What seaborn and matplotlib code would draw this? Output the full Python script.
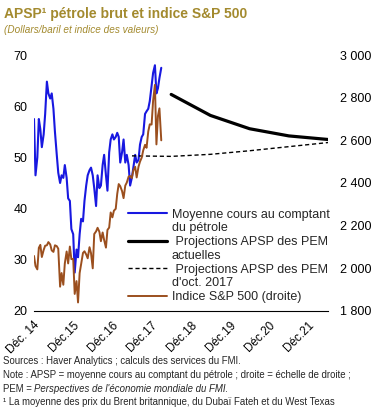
"""APSP crude oil price and S&P 500 index, with WEO projections."""

import matplotlib

matplotlib.use("Agg")
import matplotlib.pyplot as plt
import matplotlib.transforms as mtransforms
import pandas as pd
import seaborn as sns
from matplotlib.lines import Line2D
from matplotlib.ticker import FuncFormatter

# semi-monthly readings (1st and 15th of each month), Jan 2015 -> Apr 2018
oil_2015 = [57.5, 46.5, 50.0, 57.5, 55.5, 52.0, 54.5, 58.5, 64.8, 62.5, 61.5, 62.5,
            59.5, 55.0, 50.5, 47.0, 45.0, 46.5, 46.0, 48.5, 46.0, 42.0, 41.5, 36.0]
oil_2016 = [35.0, 27.5, 32.0, 30.5, 35.0, 38.0, 37.5, 41.5, 44.5, 46.5, 47.5, 48.0,
            46.5, 44.0, 40.5, 46.5, 44.0, 44.5, 48.5, 50.5, 46.5, 43.5, 51.0, 53.5]
oil_2017 = [54.5, 53.5, 54.0, 54.8, 54.0, 49.0, 51.0, 53.5, 49.0, 50.5, 48.5, 44.5,
            46.0, 48.0, 50.5, 49.0, 49.5, 52.5, 54.0, 54.5, 58.5, 59.0, 59.5, 61.0]
oil_2018 = [64.0, 66.5, 68.0, 62.5, 63.5, 65.5, 67.5]

sp_2015 = [2058, 2011, 1995, 2096, 2110, 2053, 2086, 2106, 2108, 2123, 2112, 2084,
           2077, 2108, 2104, 2092, 1914, 1978, 1923, 2023, 2079, 2023, 2102, 2043]
sp_2016 = [2044, 1880, 1940, 1840, 1978, 2020, 2072, 2080, 2065, 2047, 2099, 2071,
           2000, 2161, 2173, 2190, 2171, 2127, 2168, 2133, 2097, 2180, 2191, 2262]
sp_2017 = [2239, 2270, 2279, 2349, 2395, 2385, 2362, 2329, 2388, 2402, 2430, 2433,
           2423, 2459, 2476, 2426, 2476, 2500, 2519, 2553, 2579, 2565, 2642, 2675]
sp_2018 = [2674, 2786, 2860, 2581, 2714, 2750, 2600]

# WEO projections (annual averages, plotted mid-year)
proj_now_years = [2018.5, 2019.5, 2020.5, 2021.5, 2022.5]
proj_now = [62.3, 58.2, 55.6, 54.2, 53.5]
proj_oct17_years = [2017.5, 2018.5, 2019.5, 2020.5, 2021.5, 2022.5]
proj_oct17 = [50.3, 50.2, 50.6, 51.3, 52.1, 52.9]

tick_years = [2015, 2016, 2017, 2018, 2019, 2020, 2021, 2022]
tick_labels = ["Déc. 14", "Déc.15", "Déc.16", "Déc.17", "Déc.18", "Déc.19", "Déc.20", "Déc.21"]

TITLE_COLOR = "#A38A2E"
OIL_COLOR = "#1818E0"
SP_COLOR = "#9B4F1E"

oil = oil_2015 + oil_2016 + oil_2017 + oil_2018
sp500 = sp_2015 + sp_2016 + sp_2017 + sp_2018
dates = pd.date_range("2015-01-01", periods=len(oil), freq="SMS")
decimal_year = dates.year + (dates.dayofyear - 1) / 365.0

sns.set_style("white")
plt.rcParams["font.family"] = ["Liberation Sans", "DejaVu Sans"]

fig = plt.figure(figsize=(3.74, 4.19), dpi=100)
ax = fig.add_axes([0.0909, 0.2578, 0.7861, 0.6109])
ax2 = ax.twinx()

sns.lineplot(x=decimal_year, y=oil, ax=ax, color=OIL_COLOR, linewidth=1.5)
oil_line = ax.lines[-1]
sns.lineplot(x=proj_now_years, y=proj_now, ax=ax, color="black", linewidth=2.3)
now_line = ax.lines[-1]
sns.lineplot(x=proj_oct17_years, y=proj_oct17, ax=ax, color="black", linewidth=1.0)
oct_line = ax.lines[-1]
oct_line.set_dashes((3, 2))
sns.lineplot(x=decimal_year, y=sp500, ax=ax2, color=SP_COLOR, linewidth=1.4)
sp_line = ax2.lines[-1]

ax.set_xlim(2015, 2022.5)
ax.set_ylim(20, 70)
ax2.set_ylim(1800, 3000)
ax.set_yticks([20, 30, 40, 50, 60, 70])
ax2.set_yticks([1800, 2000, 2200, 2400, 2600, 2800, 3000])
ax2.yaxis.set_major_formatter(FuncFormatter(lambda v, _: f"{int(v):,}".replace(",", " ")))

for a in (ax, ax2):
    for side in ("top", "left", "right", "bottom"):
        a.spines[side].set_visible(False)
    a.set_xlabel("")
    a.set_ylabel("")
ax.spines["bottom"].set_visible(True)
ax.spines["bottom"].set_linewidth(0.8)
ax.spines["bottom"].set_color("black")

ax.tick_params(axis="y", length=0, pad=4.5, labelsize=9, colors="black")
ax2.tick_params(axis="y", length=0, pad=8.5, labelsize=9, colors="black")
ax.set_xticks(tick_years)
ax.set_xticklabels(tick_labels, rotation=45, ha="right", va="center",
                   rotation_mode="anchor", fontsize=8.5)
ax.tick_params(axis="x", direction="in", length=3, width=0.8, pad=9, colors="black")
shift = mtransforms.ScaledTranslation(4 / 100, 0, fig.dpi_scale_trans)
for lbl in ax.get_xticklabels():
    lbl.set_transform(lbl.get_transform() + shift)

blank = Line2D([], [], color="none")
handles = [oil_line, blank, now_line, blank, oct_line, blank, sp_line]
labels = ["Moyenne cours au comptant", "du pétrole", " Projections APSP des PEM", "actuelles",
          " Projections APSP des PEM", "d'oct. 2017", "Indice S&P 500 (droite)"]
ax2.legend(handles, labels, loc="upper left", bbox_to_anchor=(0.32, 0.40), frameon=False,
           fontsize=9, handlelength=3.1, handletextpad=0.4, labelspacing=0.14,
           borderpad=0, borderaxespad=0)

fig.text(4 / 374, 1 - 14 / 419, "APSP¹ pétrole brut et indice S&P 500", fontsize=10,
         fontweight="bold", color=TITLE_COLOR, va="center", ha="left")
fig.text(4 / 374, 1 - 30 / 419, "(Dollars/baril et indice des valeurs)", fontsize=7.2,
         style="italic", color=TITLE_COLOR, va="center", ha="left")

note_size = 6.9
fig.text(3 / 374, 1 - 361 / 419, "Sources : Haver Analytics ; calculs des services du FMI.",
         fontsize=note_size, va="center", ha="left")
fig.text(3 / 374, 1 - 375 / 419,
         "Note : APSP = moyenne cours au comptant du pétrole ; droite = échelle de droite ;",
         fontsize=note_size, va="center", ha="left")
pem = fig.text(3 / 374, 1 - 388.5 / 419, "PEM = ", fontsize=note_size, va="center", ha="left")
renderer = fig.canvas.get_renderer()
pem_box = pem.get_window_extent(renderer=renderer)
fig.text(pem_box.x1 / fig.bbox.width, 1 - 388.5 / 419,
         "Perspectives de l'économie mondiale du FMI.", fontsize=note_size,
         style="italic", va="center", ha="left")
fig.text(3 / 374, 1 - 402 / 419,
         "¹ La moyenne des prix du Brent britannique, du Dubaï Fateh et du West Texas",
         fontsize=note_size, va="center", ha="left")

fig.savefig("out.png", dpi=100)
